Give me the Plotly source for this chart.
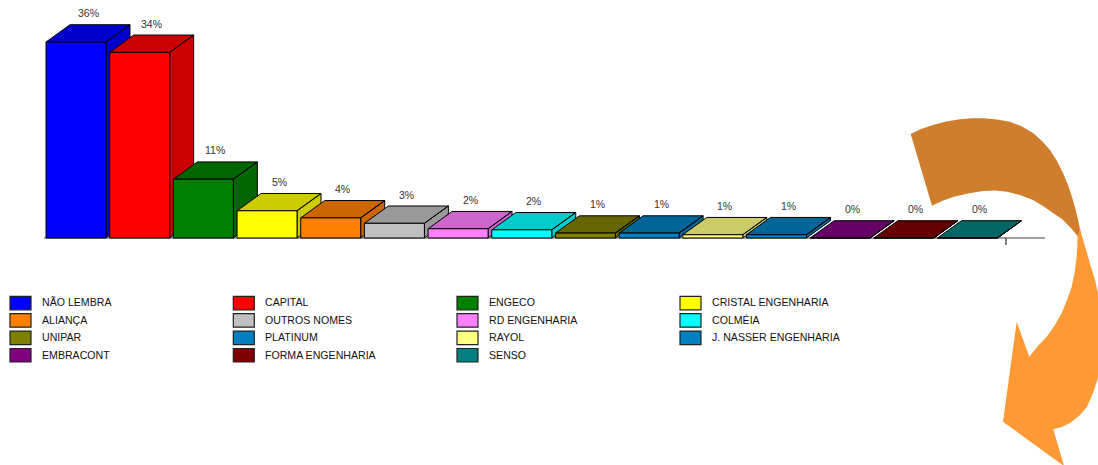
import plotly.graph_objects as go

# ---------------- data ----------------
categories = ["NÃO LEMBRA", "CAPITAL", "ENGECO", "CRISTAL ENGENHARIA", "ALIANÇA",
              "OUTROS NOMES", "RD ENGENHARIA", "COLMÉIA", "UNIPAR", "PLATINUM",
              "RAYOL", "J. NASSER ENGENHARIA", "EMBRACONT", "FORMA ENGENHARIA", "SENSO"]
values = [36.0, 34.1, 10.8, 5.0, 3.7, 2.7, 1.7, 1.5, 0.9, 0.9, 0.6, 0.6, 0.0, 0.0, 0.0]
front_colors = ["#0000FF", "#FF0000", "#008000", "#FFFF00", "#FF8000",
                "#C0C0C0", "#FF80FF", "#00FFFF", "#808000", "#0080C0",
                "#FFFF80", "#0080C0", "#800080", "#800000", "#008080"]
shade_colors = ["#0000CC", "#CC0000", "#006600", "#CCCC00", "#CC6600",
                "#999999", "#CC66CC", "#00CCCC", "#666600", "#006699",
                "#CCCC66", "#006699", "#660066", "#660000", "#006666"]
labels = [f"{int(v + 0.5)}%" for v in values]

# ---------------- geometry (axis units) ----------------
W, H = 1098, 465
slot_px = 63.68
x0_px = 76.0
y0_px = 238.0
px_per_unit_y = 5.444
x_range = [-x0_px / slot_px, -x0_px / slot_px + W / slot_px]
y_range = [-(H - y0_px) / px_per_unit_y, y0_px / px_per_unit_y]
half_w = 0.471
dx = 24.0 / slot_px
dy = 17.3 / px_per_unit_y

fig = go.Figure()
for i, (v, fc, sc) in enumerate(zip(values, front_colors, shade_colors)):
    xl, xr = i - half_w, i + half_w
    top_x = [xl, xr, xr + dx, xl + dx, xl]
    top_y = [v, v, v + dy, v + dy, v]
    side_x = [xr, xr + dx, xr + dx, xr, xr]
    side_y = [0, dy, v + dy, v, 0]
    fig.add_trace(go.Scatter(
        x=top_x + [None] + side_x, y=top_y + [None] + side_y,
        mode="lines", fill="toself", fillcolor=sc,
        line=dict(color="black", width=1), hoverinfo="skip", showlegend=False))
    fig.add_trace(go.Scatter(
        x=[xl, xr, xr, xl, xl], y=[0, 0, v, v, 0],
        mode="lines", fill="toself", fillcolor=fc,
        line=dict(color="black", width=1), hoverinfo="skip", showlegend=False,
        name=categories[i]))

annotations = []
for i, (v, lab) in enumerate(zip(values, labels)):
    annotations.append(dict(x=i + dx / 2, y=v + dy, xref="x", yref="y", text=lab,
                            showarrow=False, yanchor="bottom", yshift=3.5,
                            font=dict(size=10.5, color="#333333",
                                      family="Liberation Sans, Arial, sans-serif")))

shapes = []
# floor / axis line and tick
axis_end = (1045 - x0_px) / slot_px
tick_x = (1006 - x0_px) / slot_px
shapes.append(dict(type="line", xref="x", yref="y", x0=-0.5, x1=axis_end, y0=0, y1=0,
                   line=dict(color="#808080", width=1.5), layer="below"))
shapes.append(dict(type="line", xref="x", yref="y", x0=tick_x, x1=tick_x,
                   y0=0, y1=-7 / px_per_unit_y, line=dict(color="#555555", width=1.5)))

# legend (4 columns, row-major)
col_x = [10, 233.3, 457, 680]
row_top = 296.3
row_step = 17.4
sw_w, sw_h = 21, 13.5
for i, (name, fc) in enumerate(zip(categories, front_colors)):
    r, c = divmod(i, 4)
    x = col_x[c]
    yt = row_top + r * row_step
    shapes.append(dict(type="rect", xref="paper", yref="paper",
                       x0=x / W, x1=(x + sw_w) / W,
                       y0=1 - (yt + sw_h) / H, y1=1 - yt / H,
                       fillcolor=fc, line=dict(color="#222222", width=1.2)))
    annotations.append(dict(x=(x + 29.8) / W, y=1 - (yt + sw_h / 2 - 0.6) / H,
                            xref="paper", yref="paper", text=name, showarrow=False,
                            xanchor="left", yanchor="middle",
                            font=dict(size=10.6, color="#111111",
                                      family="Liberation Sans, Arial, sans-serif")))

# decorative curved arrow
def path_from(points):
    s = "M " + " L ".join(f"{px / W:.5f},{1 - py / H:.5f}" for px, py in points)
    return s + " Z"

dark_pts = [(910.7, 134), (921, 129), (933, 125), (946, 121.5), (960, 119.3), (972, 118.3),
            (983, 118.3), (997, 119.5), (1010, 121.7), (1022, 126.5), (1033, 133),
            (1042, 141), (1050, 150), (1057, 161), (1063, 173), (1068, 185), (1072, 197),
            (1075.5, 209), (1078, 220), (1079.5, 230), (1077.5, 236), (1071, 228),
            (1062, 219), (1053, 213), (1043, 206), (1033, 200), (1020, 195),
            (1007, 191.7), (995, 190.5), (983, 191), (968, 193.5), (953, 197),
            (942, 201), (932, 205.7)]
light_pts = [(1073, 205), (1078, 220), (1082, 236), (1087, 253), (1091, 267), (1095, 280),
             (1098, 293), (1102, 315), (1104, 335), (1102, 358), (1098, 378), (1093, 393),
             (1087, 407), (1079, 416), (1070, 423), (1062, 427), (1053.3, 429.3),
             (1064, 466), (1003, 421.7), (1016.7, 321.7), (1029.3, 356.7), (1038, 346),
             (1046.7, 336.7), (1055, 325), (1061.7, 313), (1067, 300), (1071.7, 286.7),
             (1074.5, 273), (1076.3, 260), (1077.3, 247), (1077.5, 236), (1075, 220)]
shapes.append(dict(type="path", xref="paper", yref="paper", path=path_from(light_pts),
                   fillcolor="#FE9A35", line=dict(width=0)))
shapes.append(dict(type="path", xref="paper", yref="paper", path=path_from(dark_pts),
                   fillcolor="#CE7E2C", line=dict(width=0)))

fig.update_layout(
    width=W, height=H, autosize=False,
    margin=dict(l=0, r=0, t=0, b=0, pad=0),
    paper_bgcolor="white", plot_bgcolor="white",
    xaxis=dict(range=x_range, visible=False, fixedrange=True),
    yaxis=dict(range=y_range, visible=False, fixedrange=True),
    showlegend=False, shapes=shapes, annotations=annotations,
)
fig.write_html("out.html")
